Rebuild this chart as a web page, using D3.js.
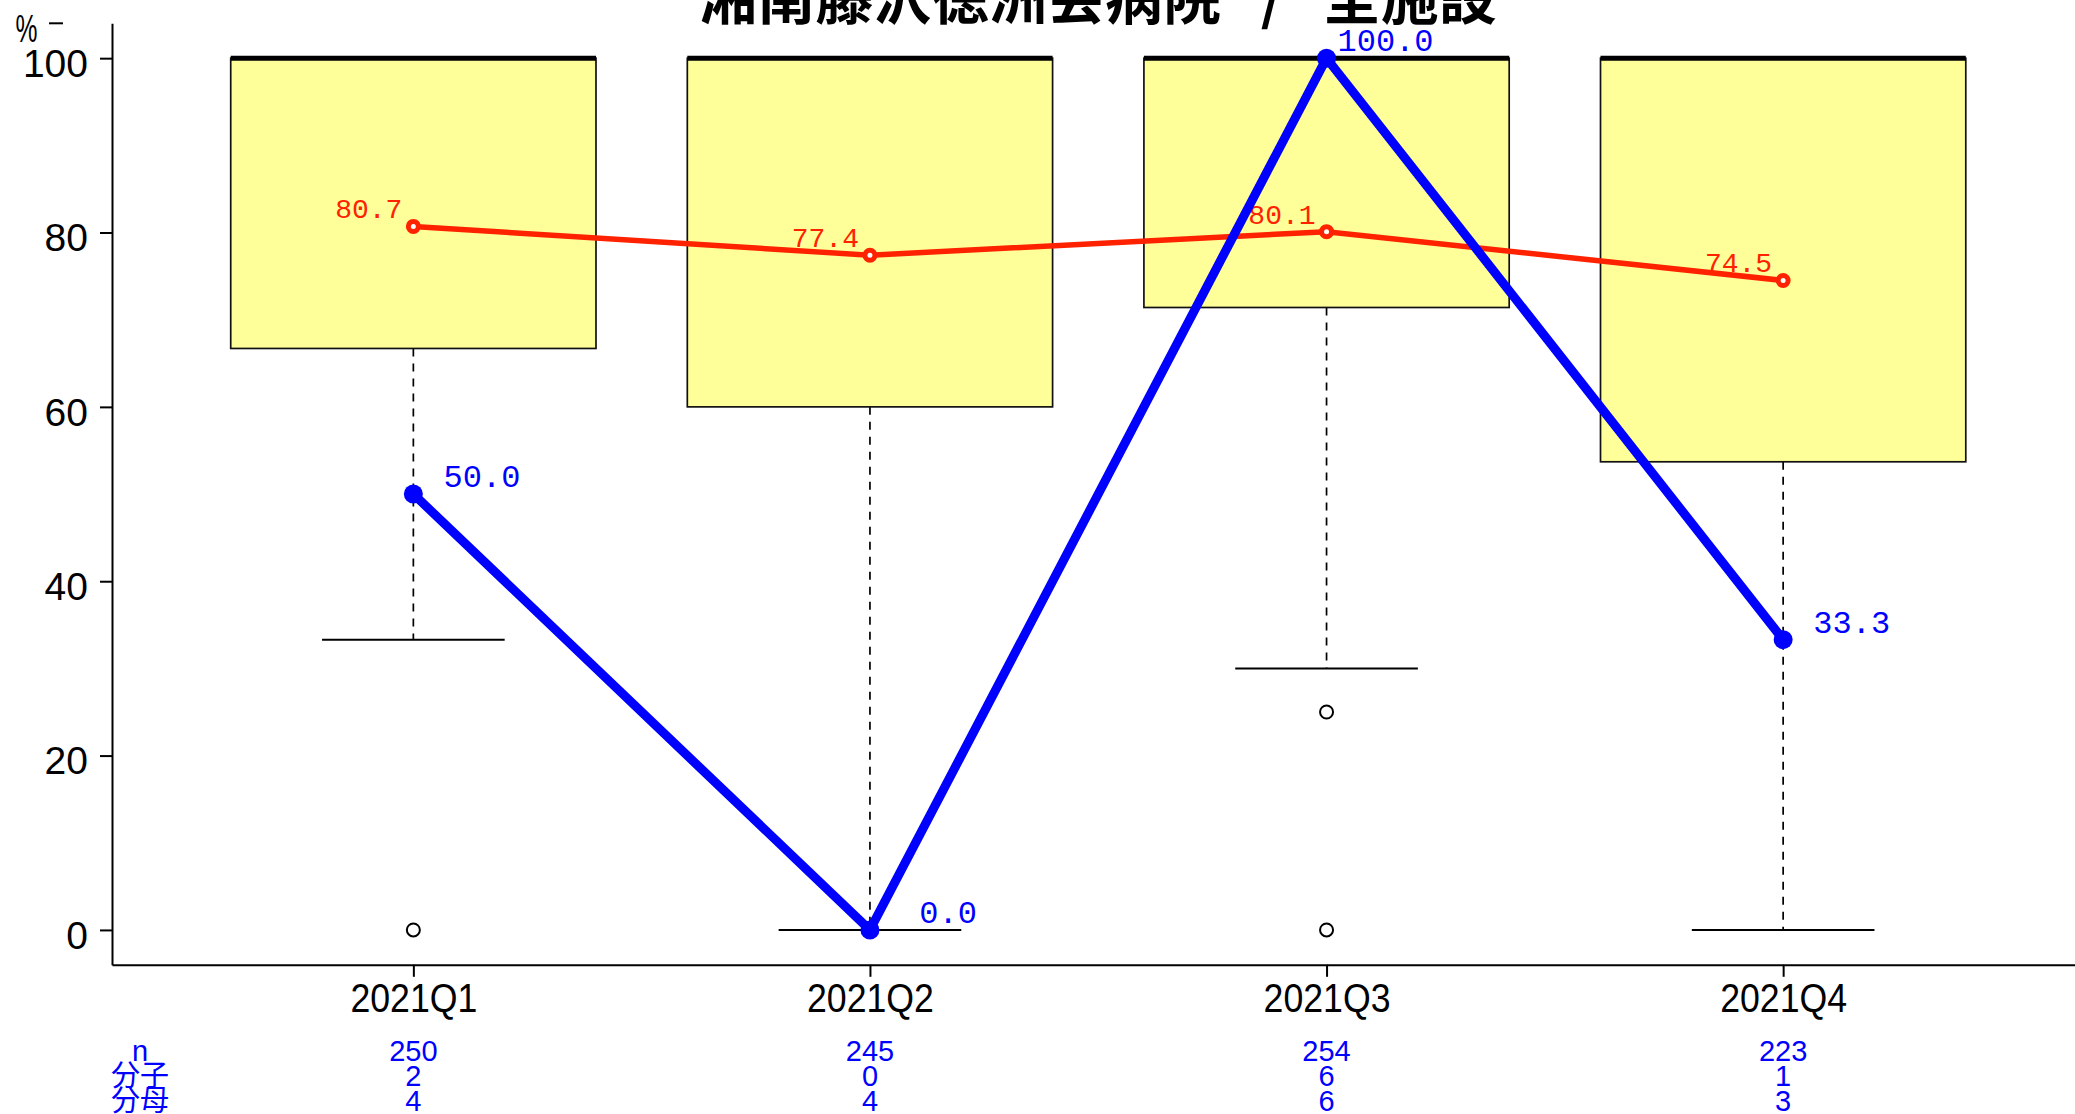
<!DOCTYPE html>
<html><head><meta charset="utf-8">
<script src="https://cdn.jsdelivr.net/npm/d3@7"></script>
<style>html,body{margin:0;padding:0;background:#fff;overflow:hidden}</style>
</head><body>
<svg id="c" width="2075" height="1114"></svg>
<script>
const categories = ["2021Q1","2021Q2","2021Q3","2021Q4"];
const boxLower = [66.7, 60, 71.4, 53.7];
const boxMedian = [100, 100, 100, 100];
const boxUpper = [100, 100, 100, 100];
const whiskerLow = [33.3, 0, 30, 0];
const whiskerHigh = [100, 100, 100, 100];
const outliers = [[0], [], [25, 0], []];
const allMean = [80.7, 77.4, 80.1, 74.5];
const hospital = [50.0, 0.0, 100.0, 33.3];
const nVals = [250, 245, 254, 223];
const numer = [2, 0, 6, 1];
const denom = [4, 4, 6, 3];
const yTicks = [0, 20, 40, 60, 80, 100];
const rowLabels = ["n", "分子", "分母"];
const title = "湘南藤沢徳洲会病院   /   全施設";

const svg = d3.select("#c");
const x = d3.scaleLinear().domain([0.34, 4.66]).range([112, 2084.5]);
const y = d3.scaleLinear().domain([-4, 104]).range([964.8, 23.3]);
const SANS = "'Liberation Sans', Arial, sans-serif";
const MONO = "'Liberation Mono', 'DejaVu Sans Mono', monospace";
const CJK = "'Noto Sans CJK JP', 'Noto Sans CJK SC', sans-serif";

// Title
svg.append("text").attr("x", 1098).attr("y", 19).attr("text-anchor", "middle")
  .attr("font-family", CJK).attr("font-weight", "bold").attr("font-size", 58)
  .attr("xml:space", "preserve").style("white-space", "pre")
  .attr("fill", "#000").text(title);

// Axes
const yAxis = d3.axisLeft(y).tickValues(yTicks).tickSize(12).tickSizeOuter(0).tickPadding(12);
const gy = svg.append("g").attr("transform", "translate(112,0)").call(yAxis);
gy.select(".domain").attr("stroke", "#000").attr("stroke-width", 2);
gy.selectAll(".tick line").attr("stroke", "#000").attr("stroke-width", 2);
gy.selectAll(".tick text").attr("font-family", SANS).attr("font-size", 39).attr("fill", "#000").attr("dy", 18.4);

const xAxis = d3.axisBottom(x).tickValues([1,2,3,4]).tickFormat((d,i)=>categories[i]).tickSize(12).tickSizeOuter(0);
const gx = svg.append("g").attr("transform", "translate(0,964.8)").call(xAxis);
gx.select(".domain").attr("stroke", "#000").attr("stroke-width", 2);
gx.selectAll(".tick line").attr("stroke", "#000").attr("stroke-width", 2);
gx.selectAll(".tick text").attr("font-family", SANS).attr("font-size", 41).attr("fill", "#000")
  .attr("y", 47).attr("dy", 0).attr("transform", "scale(0.87,1)");

// % label
svg.append("text").attr("transform", "translate(15.5,42) scale(0.65,1)")
  .attr("font-family", SANS).attr("font-size", 38).attr("fill", "#000").text("%");
svg.append("line").attr("x1", 49).attr("x2", 63).attr("y1", 23.3).attr("y2", 23.3).attr("stroke", "#000").attr("stroke-width", 2);

// Boxplots
const bp = svg.append("g");
categories.forEach((c, i) => {
  const cx = x(i + 1);
  bp.append("line").attr("x1", cx).attr("x2", cx).attr("y1", y(boxLower[i])).attr("y2", y(whiskerLow[i]))
    .attr("stroke", "#000").attr("stroke-width", 1.7).attr("stroke-dasharray", "8,7");
  bp.append("line").attr("x1", x(i + 1 - 0.2)).attr("x2", x(i + 1 + 0.2)).attr("y1", y(whiskerLow[i])).attr("y2", y(whiskerLow[i]))
    .attr("stroke", "#000").attr("stroke-width", 2);
  bp.append("rect").attr("x", x(i + 1 - 0.4)).attr("width", x(i + 1 + 0.4) - x(i + 1 - 0.4))
    .attr("y", y(boxUpper[i])).attr("height", y(boxLower[i]) - y(boxUpper[i]))
    .attr("fill", "#FFFF99").attr("stroke", "#111").attr("stroke-width", 1.7);
  bp.append("line").attr("x1", x(i + 1 - 0.4)).attr("x2", x(i + 1 + 0.4)).attr("y1", y(boxMedian[i])).attr("y2", y(boxMedian[i]))
    .attr("stroke", "#000").attr("stroke-width", 5);
  outliers[i].forEach(v => {
    bp.append("circle").attr("cx", cx).attr("cy", y(v)).attr("r", 6.5).attr("fill", "none").attr("stroke", "#000").attr("stroke-width", 2);
  });
});

// Red mean line
const RED = "#FF2200";
const line = d3.line().x((d, i) => x(i + 1)).y(d => y(d));
svg.append("path").attr("d", line(allMean)).attr("fill", "none").attr("stroke", RED).attr("stroke-width", 5.5);
svg.selectAll(".rp").data(allMean).enter().append("circle")
  .attr("cx", (d, i) => x(i + 1)).attr("cy", d => y(d)).attr("r", 5)
  .attr("fill", "#fff").attr("stroke", RED).attr("stroke-width", 5);
svg.selectAll(".rl").data(allMean).enter().append("text")
  .attr("x", (d, i) => x(i + 1) - 11).attr("y", d => y(d) - 8).attr("text-anchor", "end")
  .attr("font-family", MONO).attr("font-size", 28).attr("fill", RED).text(d => d.toFixed(1));

// Blue hospital line
const BLUE = "#0000FF";
svg.append("path").attr("d", line(hospital)).attr("fill", "none").attr("stroke", BLUE).attr("stroke-width", 9).attr("stroke-linejoin", "round");
svg.selectAll(".bpnt").data(hospital).enter().append("circle")
  .attr("cx", (d, i) => x(i + 1)).attr("cy", d => y(d)).attr("r", 9.5).attr("fill", BLUE);
svg.selectAll(".bl").data(hospital).enter().append("text")
  .attr("x", (d, i) => x(i + 1) + 11).attr("y", d => y(d) - 7)
  .attr("font-family", MONO).attr("font-size", 32).attr("fill", BLUE)
  .attr("xml:space", "preserve").style("white-space", "pre")
  .text(d => d.toFixed(1).padStart(5, " "));

// Bottom table
const rowsY = [1060.5, 1085.5, 1111];
const rows = [nVals, numer, denom];
rows.forEach((arr, r) => {
  svg.append("text").attr("x", 140).attr("y", rowsY[r]).attr("text-anchor", "middle")
    .attr("font-family", r === 0 ? SANS : CJK).attr("font-size", 29).attr("fill", BLUE).text(rowLabels[r]);
  arr.forEach((v, i) => {
    svg.append("text").attr("x", x(i + 1)).attr("y", rowsY[r]).attr("text-anchor", "middle")
      .attr("font-family", SANS).attr("font-size", 29).attr("fill", BLUE).text(v);
  });
});
</script>
</body></html>
